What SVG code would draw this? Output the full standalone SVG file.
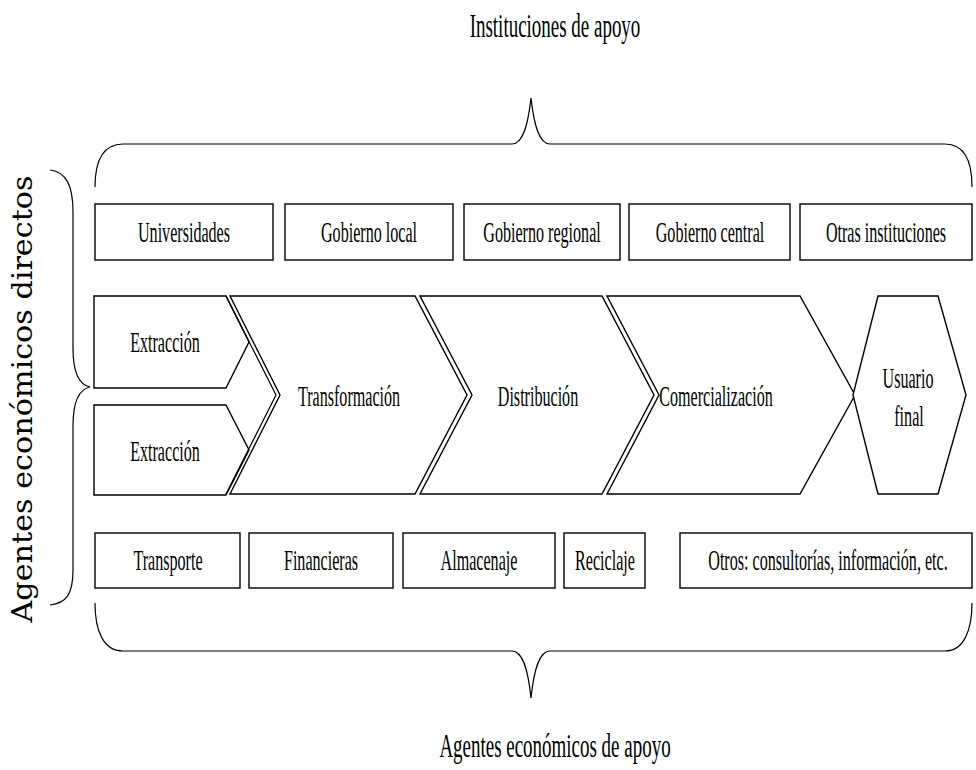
<svg xmlns="http://www.w3.org/2000/svg" width="976" height="770" viewBox="0 0 976 770" font-family="Liberation Serif, Times New Roman, serif">
<style>
.b{fill:#fff;stroke:#000;stroke-width:1.4}
.br{fill:none;stroke:#000;stroke-width:1.2}
.t{font-family:"Liberation Serif","Times New Roman",serif;font-size:29px;fill:#000;text-anchor:middle}
.big{font-family:"Liberation Serif","Times New Roman",serif;font-size:33px;fill:#000;text-anchor:middle}
.side{font-family:"DejaVu Serif","Liberation Serif",serif;font-size:28px;fill:#000;text-anchor:middle}
</style>
<rect width="976" height="770" fill="#fff"/>
<text class="big" transform="translate(555,37) scale(0.575,1)">Instituciones de apoyo</text>
<text class="big" transform="translate(555,757) scale(0.575,1)">Agentes económicos de apoyo</text>
<text class="side" transform="translate(32,399) rotate(-90)" textLength="447" lengthAdjust="spacingAndGlyphs">Agentes económicos directos</text>
<g id="braces">
<path class="br" d="M95,187 C95,160 103,144 123,144 L512,144 C523,144 528,125 531,98 C534,125 539,144 550,144 L945,144 C964,144 972,160 972,187"/>
<path class="br" d="M95,603 C95,630 103,651 123,651 L512,651 C523,651 528,670 531,698 C534,670 539,651 550,651 L945,651 C964,651 972,630 972,603"/>
<path class="br" d="M50,170 C66,172 73,185 73,212 L73,348 C73,374 80,385 90,387 C80,389 73,400 73,426 L73,570 C73,595 66,603 50,605"/>
</g>
<g id="n-universidades"><rect class="b" x="95" y="204" width="178" height="56"/><text class="t" transform="translate(184,242) scale(0.555,1)">Universidades</text></g>
<g id="n-gob-local"><rect class="b" x="285" y="204" width="168" height="56"/><text class="t" transform="translate(369,242) scale(0.555,1)">Gobierno local</text></g>
<g id="n-gob-regional"><rect class="b" x="464" y="204" width="156" height="56"/><text class="t" transform="translate(542,242) scale(0.555,1)">Gobierno regional</text></g>
<g id="n-gob-central"><rect class="b" x="629" y="204" width="161" height="56"/><text class="t" transform="translate(710,242) scale(0.555,1)">Gobierno central</text></g>
<g id="n-otras"><rect class="b" x="800" y="204" width="172" height="56"/><text class="t" transform="translate(886,242) scale(0.555,1)">Otras instituciones</text></g>
<g id="n-extraccion1"><polygon class="b" points="94,296 226,296 249,342 226,388 94,388"/><text class="t" transform="translate(165,352) scale(0.555,1)">Extracción</text></g>
<g id="n-extraccion2"><polygon class="b" points="94,405 226,405 249,450 226,495 94,495"/><text class="t" transform="translate(165,461) scale(0.555,1)">Extracción</text></g>
<g id="n-transformacion"><polyline class="br" points="226,296 276,395 226,494"/><polygon class="b" points="230,296 415,296 467,395 415,494 230,494 280,395"/><text class="t" transform="translate(349,406) scale(0.555,1)">Transformación</text></g>
<g id="n-distribucion"><polygon class="b" points="420,296 602,296 654,395 602,494 420,494 472,395"/><text class="t" transform="translate(538,406) scale(0.555,1)">Distribución</text></g>
<g id="n-comercializacion"><polygon class="b" points="607,296 800,296 855,395 800,494 607,494 659,395"/><text class="t" transform="translate(716,406) scale(0.555,1)">Comercialización</text></g>
<g id="n-usuario"><polygon class="b" points="878,296 938,296 966,395 938,494 878,494 853,395"/><text class="t" transform="translate(908,388) scale(0.555,1)">Usuario</text><text class="t" transform="translate(909,426) scale(0.555,1)">final</text></g>
<g id="n-transporte"><rect class="b" x="95" y="533" width="145" height="55"/><text class="t" transform="translate(168,570) scale(0.555,1)">Transporte</text></g>
<g id="n-financieras"><rect class="b" x="249" y="533" width="144" height="55"/><text class="t" transform="translate(321,570) scale(0.555,1)">Financieras</text></g>
<g id="n-almacenaje"><rect class="b" x="403" y="533" width="152" height="55"/><text class="t" transform="translate(479,570) scale(0.555,1)">Almacenaje</text></g>
<g id="n-reciclaje"><rect class="b" x="564" y="533" width="81" height="55"/><text class="t" transform="translate(605,570) scale(0.555,1)">Reciclaje</text></g>
<g id="n-otros"><rect class="b" x="680" y="533" width="292" height="55"/><text class="t" transform="translate(828,570) scale(0.555,1)">Otros: consultorías, información, etc.</text></g>
</svg>
